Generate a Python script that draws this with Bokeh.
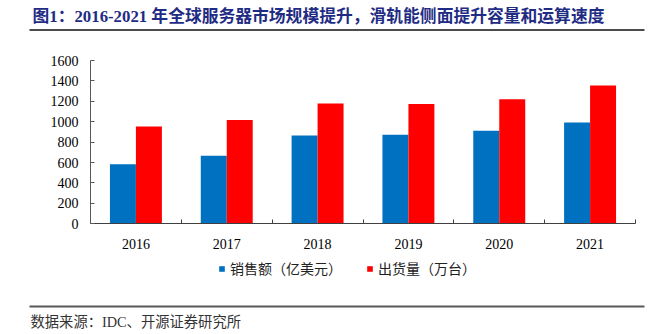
from bokeh.plotting import figure
from bokeh.models import (Range1d, FixedTicker, Label, Legend, LegendItem,
                          BoxAnnotation, ColumnDataSource)
from bokeh.transform import dodge
from bokeh.embed import file_html
from bokeh.resources import INLINE

years = [2016, 2017, 2018, 2019, 2020, 2021]
sales = [584, 666, 865, 872, 911, 992]          # 销售额（亿美元）
shipments = [953, 1018, 1178, 1175, 1220, 1354]  # 出货量（万台）
y_ticks = [0, 200, 400, 600, 800, 1000, 1200, 1400, 1600]

title_text = "图1：2016-2021 年全球服务器市场规模提升，滑轨能侧面提升容量和运算速度"
source_text = "数据来源：IDC、开源证券研究所"
label_sales = "销售额（亿美元）"
label_ship = "出货量（万台）"

W, H = 650, 334
# plot area on the canvas (pixels): left, right, top, bottom
PL, PR, PT, PB = 90.0, 635.0, 60.0, 223.3
x0, x1 = years[0] - 0.5, years[-1] + 0.5
y0, y1 = y_ticks[0], y_ticks[-1]
xs = (PR - PL) / (x1 - x0)
ys = (PB - PT) / (y1 - y0)
x_range = Range1d(x0 - PL / xs, x1 + (W - PR) / xs)
y_range = Range1d(y0 - (H - PB) / ys, y1 + PT / ys)

src = ColumnDataSource(dict(year=years, sales=sales, ship=shipments))

p = figure(width=W, height=H, output_backend="svg", toolbar_location=None,
           x_range=x_range, y_range=y_range, min_border=0)
p.outline_line_color = None
p.xgrid.visible = False
p.ygrid.visible = False

bw = 0.286
r1 = p.vbar(x=dodge("year", -bw / 2), top="sales", width=bw, source=src,
            fill_color="#0070C0", line_color=None)
r2 = p.vbar(x=dodge("year", bw / 2), top="ship", width=bw, source=src,
            fill_color="#FF0000", line_color=None)

serif = "Liberation Serif"

ya = p.yaxis[0]
ya.fixed_location = x0
ya.bounds = (y0, y1)
ya.ticker = FixedTicker(ticks=y_ticks)
ya.major_tick_in = 4
ya.major_tick_out = 0
ya.minor_tick_line_color = None
ya.axis_line_color = "#595959"
ya.major_tick_line_color = "#595959"
ya.major_label_text_font = serif
ya.major_label_text_font_size = "14px"
ya.major_label_text_color = "#000000"
ya.major_label_standoff = 12

xa = p.xaxis[0]
xa.fixed_location = y0
xa.bounds = (x0, x1)
bounds = [y - 0.5 for y in years] + [years[-1] + 0.5]
xa.ticker = FixedTicker(ticks=years, minor_ticks=bounds)
xa.major_tick_line_color = None
xa.minor_tick_in = 4
xa.minor_tick_out = 0
xa.minor_tick_line_color = "#404040"
xa.axis_line_color = "#404040"
xa.major_label_text_font = serif
xa.major_label_text_font_size = "14px"
xa.major_label_text_color = "#000000"
xa.major_label_standoff = 9

legend = Legend(items=[LegendItem(label=label_sales, renderers=[r1]),
                       LegendItem(label=label_ship, renderers=[r2])],
                orientation="horizontal", location=(218, 56),
                glyph_width=7, glyph_height=7, label_height=14,
                label_standoff=5, spacing=24, padding=0, margin=0,
                border_line_color=None, background_fill_alpha=0,
                label_text_font="Noto Sans CJK SC",
                label_text_font_size="14px", label_text_color="#222222")
p.add_layout(legend, "center")

mixed = "Liberation Serif, Noto Sans CJK SC"
p.add_layout(Label(x=32, y=H - 16, x_units="screen", y_units="screen",
                   text=title_text, text_font=mixed,
                   text_font_size="16.8px", text_font_style="bold",
                   text_color="#1F2C84", text_baseline="middle"))
p.add_layout(Label(x=30, y=H - 321, x_units="screen", y_units="screen",
                   text=source_text, text_font=mixed,
                   text_font_size="14.3px", text_color="#333333",
                   text_baseline="middle"))
p.add_layout(BoxAnnotation(left=29, right=644, top=H - 28.8, bottom=H - 30.3,
                           left_units="screen", right_units="screen",
                           top_units="screen", bottom_units="screen",
                           fill_color="#111111", fill_alpha=1, line_color=None))
p.add_layout(BoxAnnotation(left=29, right=644, top=H - 305, bottom=H - 307,
                           left_units="screen", right_units="screen",
                           top_units="screen", bottom_units="screen",
                           fill_color="#595959", fill_alpha=1, line_color=None))

open("out.html", "w").write(file_html(p, INLINE))
